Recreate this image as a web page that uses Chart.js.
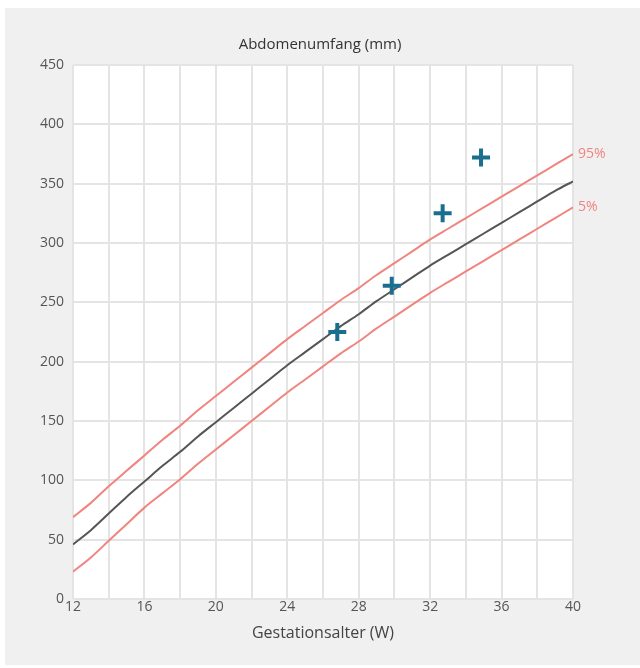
<!DOCTYPE html>
<html>
<head>
<meta charset="utf-8">
<script src="https://cdn.jsdelivr.net/npm/chart.js@4/dist/chart.umd.min.js"></script>
<style>
html,body{margin:0;padding:0;background:#fff;}
#wrap{width:640px;height:668px;position:relative;}
</style>
</head>
<body>
<div id="wrap"><canvas id="c" width="640" height="668"></canvas></div>
<script>
// Gestational weeks
const weeks = [12,13,14,15,16,17,18,19,20,21,22,23,24,25,26,27,28,29,30,31,32,33,34,35,36,37,38,39,40];
// Mean abdominal circumference (mm)
const meanAC = [46,58,72,86,99,112,124,137,149,161,173,185,197,208,219,230,240,251,261,271,281,290,299,308,317,326,335,344,352];
// 95th percentile
const p95 = [69,81,95,108,121,134,146,159,171,183,195,207,219,230,241,252,262,273,283,293,303,312,321,330,339,348,357,366,375];
// 5th percentile
const p5 = [23,35,49,63,77,89,101,114,126,138,150,162,174,185,196,207,217,228,238,248,258,267,276,285,294,303,312,321,330];
// Measurements (week, mm)
const measWeeks = [26.8, 29.85, 32.7, 34.85];
const measValues = [225, 264, 325, 372];

const title = 'Abdomenumfang (mm)';
const xTitle = 'Gestationsalter (W)';
const label95 = '95%';
const label5 = '5%';

const FONT = "'Open Sans', 'Noto Sans', sans-serif";
const PINK = '#f0847f';

const toXY = (xs, ys) => xs.map((x, i) => ({x: x, y: ys[i]}));

const bgPlugin = {
  id: 'bg',
  beforeDraw(chart) {
    const ctx = chart.ctx, a = chart.chartArea;
    ctx.save();
    ctx.fillStyle = '#ffffff';
    ctx.fillRect(0, 0, chart.width, chart.height);
    ctx.fillStyle = '#f0f0f0';
    ctx.fillRect(5, 8, chart.width - 5, chart.height - 11);
    ctx.fillStyle = '#ffffff';
    ctx.fillRect(a.left, a.top, a.right - a.left, a.bottom - a.top);
    ctx.restore();
  }
};

const endLabels = {
  id: 'endLabels',
  afterDatasetsDraw(chart) {
    const ctx = chart.ctx;
    ctx.save();
    ctx.font = "14px " + FONT;
    ctx.fillStyle = PINK;
    ctx.textBaseline = 'middle';
    ctx.textAlign = 'left';
    [[1, label95], [2, label5]].forEach(([idx, txt]) => {
      const meta = chart.getDatasetMeta(idx);
      const pt = meta.data[meta.data.length - 1];
      ctx.fillText(txt, pt.x + 5, pt.y);
    });
    ctx.restore();
  }
};

new Chart(document.getElementById('c'), {
  type: 'scatter',
  data: {
    datasets: [
      {label: 'Mittel', data: toXY(weeks, meanAC), showLine: true, borderColor: '#555555', borderWidth: 2, pointRadius: 0, tension: 0.3, order: 3},
      {label: '95%', data: toXY(weeks, p95), showLine: true, borderColor: PINK, borderWidth: 2, pointRadius: 0, tension: 0.3, order: 2},
      {label: '5%', data: toXY(weeks, p5), showLine: true, borderColor: PINK, borderWidth: 2, pointRadius: 0, tension: 0.3, order: 2},
      {label: 'Messung', data: toXY(measWeeks, measValues), showLine: false, pointStyle: 'cross', pointRadius: 9, pointHoverRadius: 9, borderColor: '#1b6f8e', backgroundColor: '#1b6f8e', pointBorderWidth: 4, borderWidth: 4, order: 0}
    ]
  },
  options: {
    responsive: false,
    animation: false,
    events: [],
    layout: {padding: {left: 0, right: 0, top: 0, bottom: 25}},
    plugins: {
      legend: {display: false},
      tooltip: {enabled: false},
      title: {display: true, text: title, color: '#333333', font: {family: FONT, size: 15, weight: 'normal'}, padding: {top: 36, bottom: 11}}
    },
    scales: {
      x: {
        type: 'linear', min: 12, max: 40,
        grid: {color: '#e4e4e4', lineWidth: 2, drawTicks: false},
        border: {display: false},
        ticks: {stepSize: 2, color: '#555555', padding: 0, maxRotation: 0, autoSkip: false, font: {family: FONT, size: 14},
          callback: (v) => ((v - 12) % 4 === 0 ? String(v) : '')},
        title: {display: true, text: xTitle, color: '#444444', font: {family: FONT, size: 16}, padding: {top: 8, bottom: 0}}
      },
      y: {
        min: 0, max: 450,
        grid: {color: '#e4e4e4', lineWidth: 2, drawTicks: false},
        border: {display: false},
        ticks: {stepSize: 50, color: '#555555', padding: 9, font: {family: FONT, size: 14}},
        afterFit: (s) => { s.width = 73; }
      },
      yRight: {
        position: 'right', min: 0, max: 450,
        grid: {display: false},
        border: {display: false},
        ticks: {display: false},
        afterFit: (s) => { s.width = 67; }
      }
    }
  },
  plugins: [bgPlugin, endLabels]
});
</script>
</body>
</html>
